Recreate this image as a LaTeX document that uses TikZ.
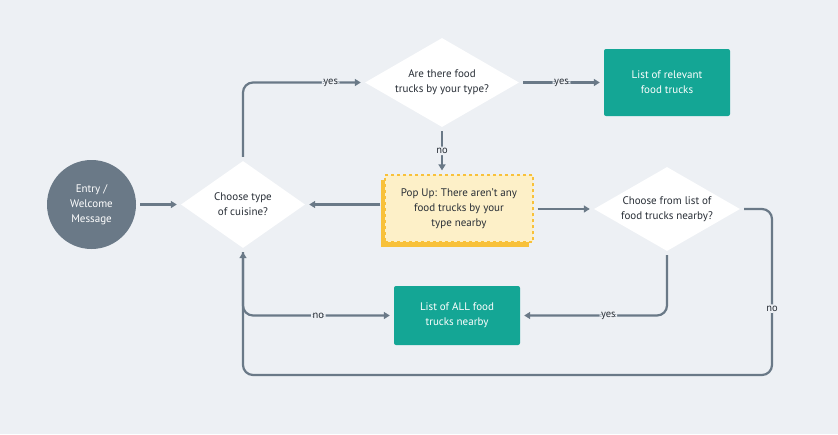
\documentclass[tikz,border=0pt]{standalone}
\usepackage{fontspec}
\setmainfont{PT Sans}
\usetikzlibrary{shapes.geometric,arrows.meta}
\definecolor{bg}{RGB}{237,240,244}
\definecolor{slate}{RGB}{106,121,135}
\definecolor{teal}{RGB}{20,166,149}
\definecolor{ink}{RGB}{40,46,54}
\definecolor{popfill}{RGB}{253,240,200}
\definecolor{popedge}{RGB}{248,193,58}
\tikzset{
  txt/.style={font=\fontsize{11}{15}\selectfont, align=center},
  dia/.style={diamond, fill=white, inner sep=0pt, txt, text=ink},
  tbox/.style={rectangle, rounded corners=2pt, fill=teal, text=white, txt, inner sep=0pt},
  conn/.style={draw=slate, line width=2.2pt, rounded corners=10pt, -{Triangle[length=6pt,width=7pt]}, shorten >=4pt, shorten <=4pt},
  lab/.style={fill=bg, text=ink, font=\fontsize{10.5}{12}\selectfont, inner sep=1.5pt}
}
\begin{document}
\begin{tikzpicture}[x=1pt,y=-1pt]
\fill[bg] (0,0) rectangle (838,434);
\useasboundingbox (0,0) rectangle (838,434);

\node[circle, fill=slate, minimum size=89pt, inner sep=0pt, text=white, txt] (entry) at (91.5,204.5) {Entry /\\Welcome\\Message};
\node[dia, shape aspect=1.43, minimum width=124pt, minimum height=87pt] (cz) at (243,204.5) {Choose type\\of cuisine?};
\node[dia, shape aspect=1.73, minimum width=154pt, minimum height=89pt] (q1) at (442,82.5) {Are there food\\trucks by your type?};
\node[tbox, minimum width=126pt, minimum height=67pt] (rel) at (667,82.5) {List of relevant\\food trucks};
% popup shadow + box
\node[rectangle, fill=popedge, minimum width=148pt, minimum height=67pt, inner sep=0pt] (popsh) at (455,213.5) {};
\node[rectangle, fill=popfill, draw=popedge, dashed, line width=1.2pt, minimum width=148pt, minimum height=67pt, inner sep=0pt, txt, text=ink] (pop) at (459,208.5) {Pop Up: There aren't any\\food trucks by your\\type nearby};
\node[dia, shape aspect=1.74, minimum width=146pt, minimum height=84pt] (q2) at (667,209) {Choose from list of\\food trucks nearby?};
\node[tbox, minimum width=126pt, minimum height=59pt] (all) at (457,315.5) {List of ALL food\\trucks nearby};
\coordinate (c1) at (772,375);

\draw[conn] (entry) -- (cz.west);
\draw[conn] (cz.north) |- node[lab, pos=0.86]{yes} (q1.west);
\draw[conn] (q1.east) -- node[lab]{yes} (rel.west);
\draw[conn] (q1.south) -- node[lab]{no} (q1.south |- pop.north);
\draw[conn] (pop.west |- cz.east) -- (cz.east);
\draw[conn] (pop.east |- q2.west) -- (q2.west);
\draw[conn] (q2.south) |- node[lab, pos=0.7]{yes} (all.east);
\draw[conn] (cz.south) |- node[lab, pos=0.75]{no} (all.west);
\draw[conn] (q2.east) -| node[lab, pos=0.8]{no} (c1) -| (cz.south);
\end{tikzpicture}
\end{document}
